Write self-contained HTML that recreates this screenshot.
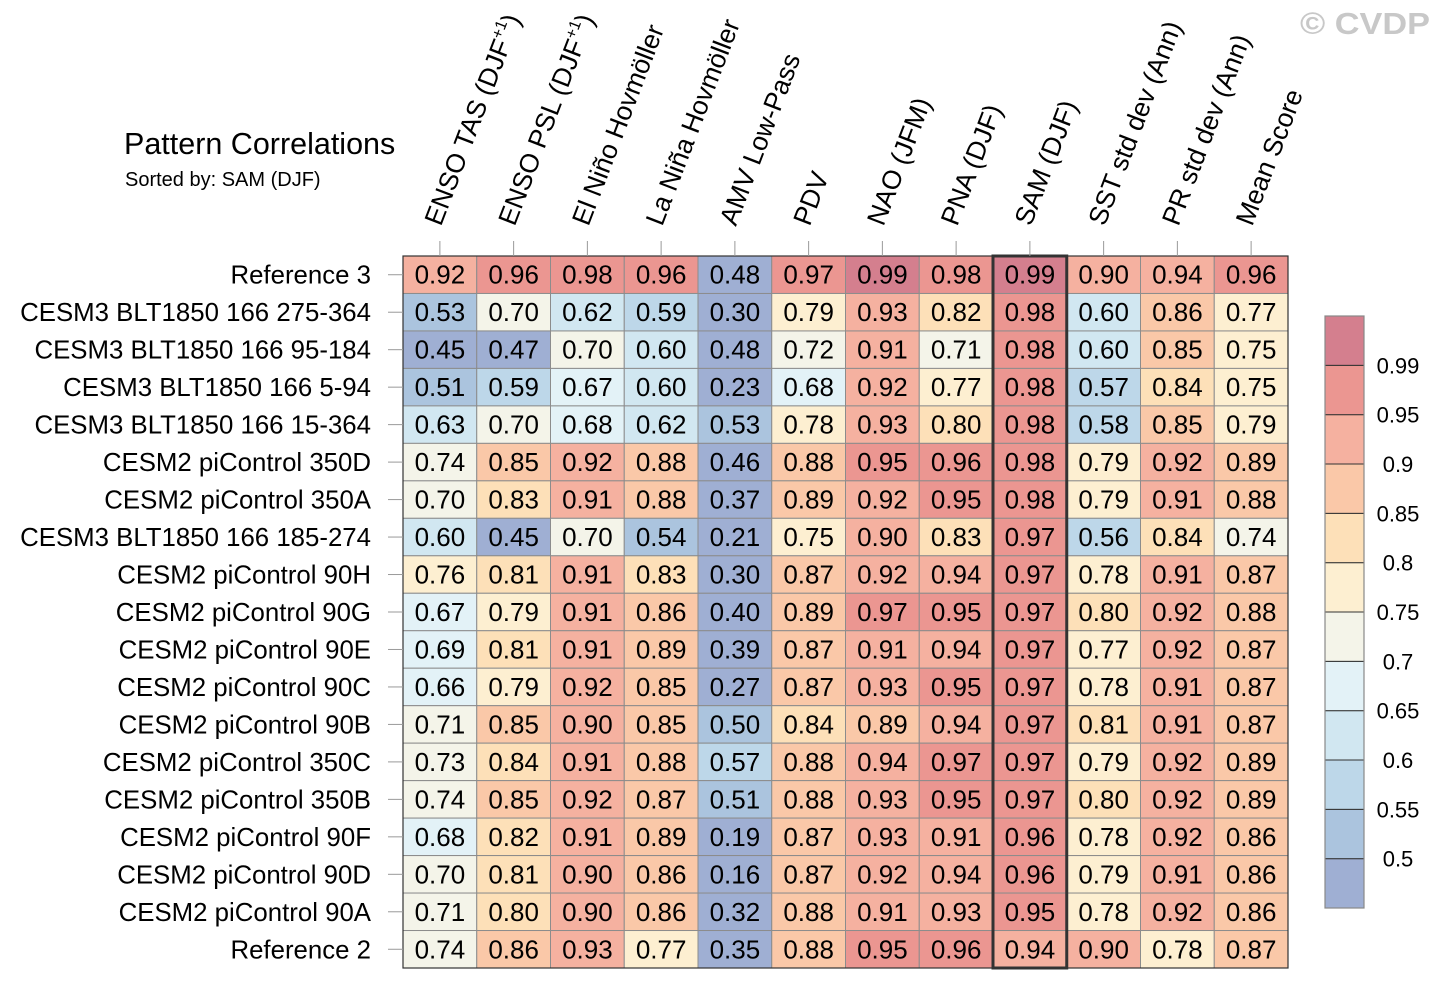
<!DOCTYPE html>
<html><head><meta charset="utf-8"><style>
body{margin:0;background:#fff;}
svg text{font-family:"Liberation Sans",Arial,sans-serif;}
</style></head><body>
<svg id="chart" width="1440" height="989" xmlns="http://www.w3.org/2000/svg">
<text x="1430" y="34" text-anchor="end" font-size="31" font-weight="bold" fill="#c8c8c8" textLength="130" lengthAdjust="spacingAndGlyphs">© CVDP</text>
<text x="124" y="154" font-size="30.5" fill="#000">Pattern Correlations</text>
<text x="125" y="186" font-size="20" fill="#000">Sorted by: SAM (DJF)</text>
<g id="cells"></g><g id="rowlabels"></g><g id="collabels"></g><g id="cbar"></g>
</svg>
<script>
const columns=["ENSO TAS (DJF+1)","ENSO PSL (DJF+1)","El Niño Hovmöller","La Niña Hovmöller","AMV Low-Pass","PDV","NAO (JFM)","PNA (DJF)","SAM (DJF)","SST std dev (Ann)","PR std dev (Ann)","Mean Score"];
const rows=["Reference 3","CESM3 BLT1850 166 275-364","CESM3 BLT1850 166 95-184","CESM3 BLT1850 166 5-94","CESM3 BLT1850 166 15-364","CESM2 piControl 350D","CESM2 piControl 350A","CESM3 BLT1850 166 185-274","CESM2 piControl 90H","CESM2 piControl 90G","CESM2 piControl 90E","CESM2 piControl 90C","CESM2 piControl 90B","CESM2 piControl 350C","CESM2 piControl 350B","CESM2 piControl 90F","CESM2 piControl 90D","CESM2 piControl 90A","Reference 2"];
const values=[
[0.92,0.96,0.98,0.96,0.48,0.97,0.99,0.98,0.99,0.90,0.94,0.96],
[0.53,0.70,0.62,0.59,0.30,0.79,0.93,0.82,0.98,0.60,0.86,0.77],
[0.45,0.47,0.70,0.60,0.48,0.72,0.91,0.71,0.98,0.60,0.85,0.75],
[0.51,0.59,0.67,0.60,0.23,0.68,0.92,0.77,0.98,0.57,0.84,0.75],
[0.63,0.70,0.68,0.62,0.53,0.78,0.93,0.80,0.98,0.58,0.85,0.79],
[0.74,0.85,0.92,0.88,0.46,0.88,0.95,0.96,0.98,0.79,0.92,0.89],
[0.70,0.83,0.91,0.88,0.37,0.89,0.92,0.95,0.98,0.79,0.91,0.88],
[0.60,0.45,0.70,0.54,0.21,0.75,0.90,0.83,0.97,0.56,0.84,0.74],
[0.76,0.81,0.91,0.83,0.30,0.87,0.92,0.94,0.97,0.78,0.91,0.87],
[0.67,0.79,0.91,0.86,0.40,0.89,0.97,0.95,0.97,0.80,0.92,0.88],
[0.69,0.81,0.91,0.89,0.39,0.87,0.91,0.94,0.97,0.77,0.92,0.87],
[0.66,0.79,0.92,0.85,0.27,0.87,0.93,0.95,0.97,0.78,0.91,0.87],
[0.71,0.85,0.90,0.85,0.50,0.84,0.89,0.94,0.97,0.81,0.91,0.87],
[0.73,0.84,0.91,0.88,0.57,0.88,0.94,0.97,0.97,0.79,0.92,0.89],
[0.74,0.85,0.92,0.87,0.51,0.88,0.93,0.95,0.97,0.80,0.92,0.89],
[0.68,0.82,0.91,0.89,0.19,0.87,0.93,0.91,0.96,0.78,0.92,0.86],
[0.70,0.81,0.90,0.86,0.16,0.87,0.92,0.94,0.96,0.79,0.91,0.86],
[0.71,0.80,0.90,0.86,0.32,0.88,0.91,0.93,0.95,0.78,0.92,0.86],
[0.74,0.86,0.93,0.77,0.35,0.88,0.95,0.96,0.94,0.90,0.78,0.87]];
const levels=[0.5,0.55,0.6,0.65,0.7,0.75,0.8,0.85,0.9,0.95,0.99];
const levelLabels=["0.5","0.55","0.6","0.65","0.7","0.75","0.8","0.85","0.9","0.95","0.99"];
const palette=["#9fafd3","#abc4de","#bdd7e9","#d1e7f1","#e3f2f7","#f4f4e9","#fdefd1","#fde0b8","#fac8a8","#f5b1a0","#eb9691","#d47f8e"];
const highlightCol=8;
const NS="http://www.w3.org/2000/svg";
const L=403,R=1288,T=256,B=968;
const cw=(R-L)/columns.length, rh=(B-T)/rows.length;
const xc=i=>L+cw*(i+0.5), yc=j=>T+rh*(j+0.5);
function mk(tag,attrs,parent){const e=document.createElementNS(NS,tag);for(const k in attrs)e.setAttribute(k,attrs[k]);parent.appendChild(e);return e;}
function colorOf(v){let k=0;while(k<levels.length&&v>=levels[k]-1e-9)k++;return palette[k];}
const cells=document.getElementById('cells');
values.forEach((row,j)=>row.forEach((v,i)=>{
 const r=mk('rect',{x:L+cw*i,y:T+rh*j,width:cw,height:rh,fill:colorOf(v),stroke:'#8c8c8c','stroke-width':1},cells);
 
 
 const t=mk('text',{x:xc(i),y:yc(j)+9,'text-anchor':'middle','font-size':26,fill:'#000'},cells);
 
 
 t.textContent=v.toFixed(2);
}));
const ob=mk('rect',{x:L,y:T,width:R-L,height:B-T,fill:'none',stroke:'#333','stroke-width':1.2},cells);


const hb=mk('rect',{x:L+cw*highlightCol,y:T,width:cw,height:B-T,fill:'none',stroke:'#333','stroke-width':3},cells);


const rl=document.getElementById('rowlabels');
rows.forEach((n,j)=>{
 const tk=mk('line',{x1:388,x2:L,y1:yc(j),y2:yc(j),stroke:'#999','stroke-width':1},rl);
 
 
 const t=mk('text',{x:371,y:yc(j)+9,'text-anchor':'end','font-size':25.8,fill:'#000'},rl);
 
 
 t.textContent=n;
});
const cl=document.getElementById('collabels');
columns.forEach((n,i)=>{
 const tk=mk('line',{x1:xc(i),x2:xc(i),y1:241,y2:T,stroke:'#999','stroke-width':1},cl);
 
 
 const x=xc(i)+1,y=227;
 const t=mk('text',{x:x,y:y,'font-size':26.5,fill:'#000',transform:`rotate(-69 ${x} ${y})`},cl);
 
 
 const m=n.match(/^(.*DJF)\+1\)$/);
 if(m){t.appendChild(document.createTextNode(m[1]));
  const s=mk('tspan',{'font-size':16,dy:-11},t);s.textContent='+1';
  const c=mk('tspan',{dy:11},t);c.textContent=')';}
 else t.textContent=n;
});
const cb=document.getElementById('cbar');
const cbL=1325,cbT=316,cbW=39,cbH=592,nb=palette.length,bh=cbH/nb;
palette.forEach((c,k)=>{
 const r=mk('rect',{x:cbL,y:cbT+cbH-bh*(k+1),width:cbW,height:bh,fill:c,stroke:'#333','stroke-width':1},cb);
 
 
});
const cbo=mk('rect',{x:cbL,y:cbT,width:cbW,height:cbH,fill:'none',stroke:'#888','stroke-width':1.2},cb);


levelLabels.forEach((s,k)=>{
 const t=mk('text',{x:1398,y:cbT+cbH-bh*(k+1)+8,'text-anchor':'middle','font-size':22,fill:'#000'},cb);
 
 
 t.textContent=s;
});
</script>
</body></html>
